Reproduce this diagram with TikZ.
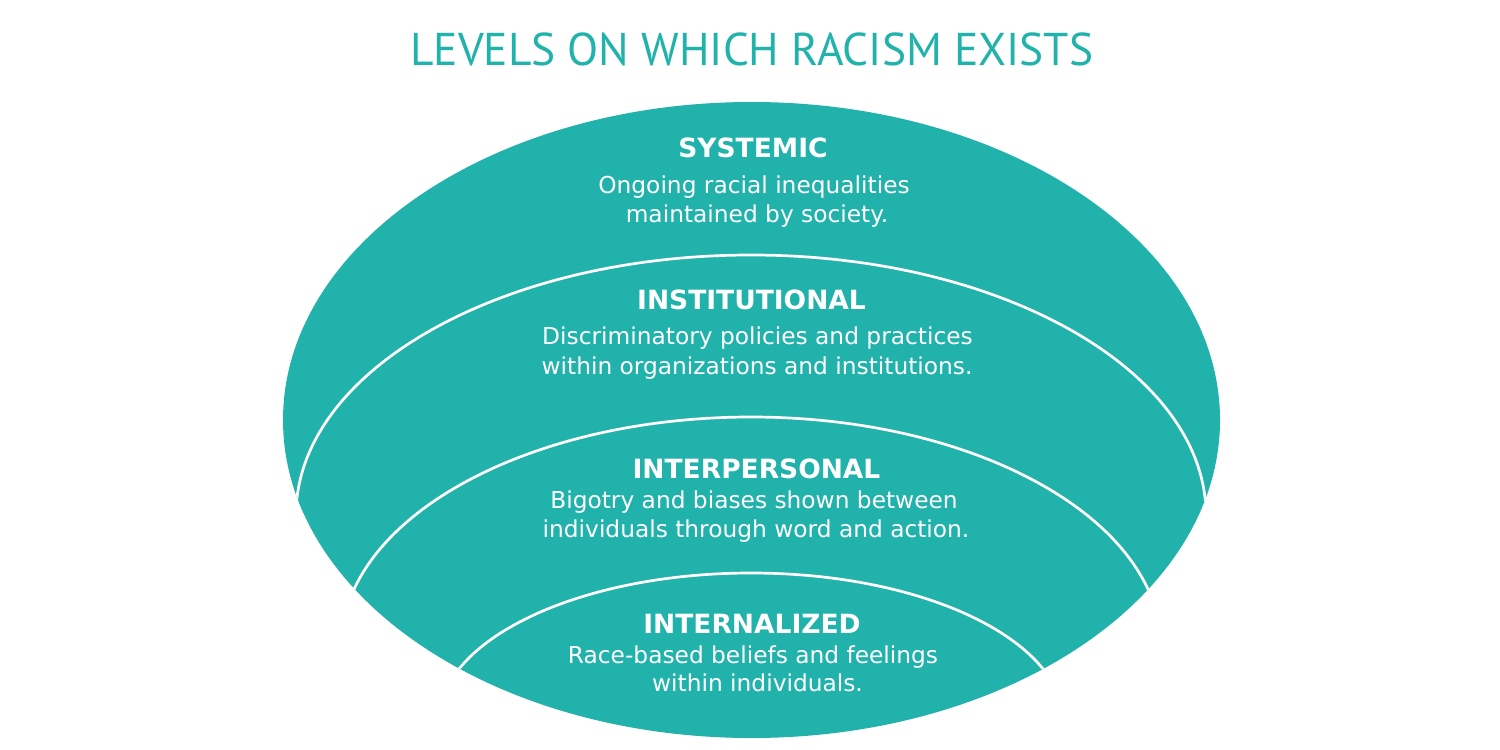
\documentclass[tikz,border=0pt]{standalone}
\usepackage{fontspec}
\setmainfont{DejaVu Sans}
\newfontfamily\titlefont{PT Sans}
\definecolor{racteal}{RGB}{33,178,171}
\begin{document}
\begin{tikzpicture}[x=1pt,y=-1pt,
  body/.style={anchor=base, inner sep=0pt, text=white, font=\fontsize{23.3}{28}\selectfont},
  head/.style={anchor=base, inner sep=0pt, text=white, font=\bfseries\fontsize{26.5}{30}\selectfont},
  arcline/.style={draw=white, line width=2.7pt}]
\useasboundingbox (0,0) rectangle (1500,750);
\fill[white] (0,0) rectangle (1500,750);
% title
\node[anchor=base west, inner sep=0pt, text=racteal] (title) at (410,65)
  {\resizebox{683pt}{32.7pt}{\titlefont LEVELS ON WHICH RACISM EXISTS}};
% outer ellipse
\fill[racteal] (751.5,420) ellipse [x radius=468.5, y radius=318];
\begin{scope}
  \clip (751.5,420) ellipse [x radius=468.5, y radius=318];
  \draw[arcline] (751,515) ellipse [x radius=455, y radius=260];
  \draw[arcline] (751,647) ellipse [x radius=410, y radius=230];
  \draw[arcline] (751,723) ellipse [x radius=313, y radius=150];
\end{scope}
% systemic
\node[head] (h1) at (753,157) {SYSTEMIC};
\node[body] (a1) at (754,193) {Ongoing racial inequalities};
\node[body] (b1) at (757,222) {maintained by society.};
% institutional
\node[head] (h2) at (751.5,309) {INSTITUTIONAL};
\node[body] (a2) at (757.5,344) {Discriminatory policies and practices};
\node[body] (b2) at (757,374) {within organizations and institutions.};
% interpersonal
\node[head] (h3) at (756.5,478) {INTERPERSONAL};
\node[body] (a3) at (754,508) {Bigotry and biases shown between};
\node[body] (b3) at (756,537) {individuals through word and action.};
% internalized
\node[head] (h4) at (752,633) {INTERNALIZED};
\node[body] (a4) at (753,663) {Race-based beliefs and feelings};
\node[body] (b4) at (757.5,691) {within individuals.};
\end{tikzpicture}
\end{document}
